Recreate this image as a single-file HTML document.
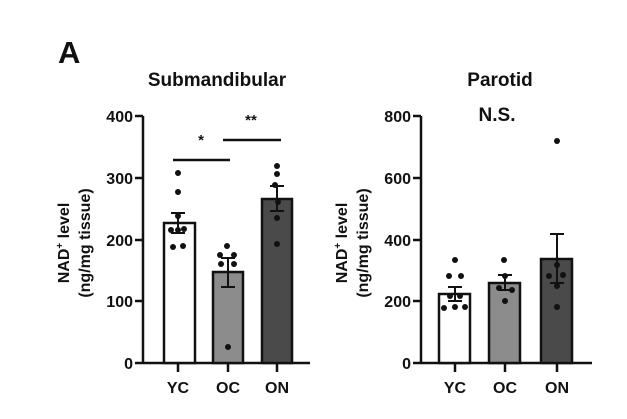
<!DOCTYPE html>
<html><head><style>body{margin:0;background:#fff}svg{display:block}text{font-family:"Liberation Sans",Arial,sans-serif;font-weight:bold;fill:#111}</style></head><body>
<svg width="627" height="419" viewBox="0 0 627 419">
<text x="58" y="63" font-size="31">A</text>
<text x="217" y="86" font-size="19" text-anchor="middle">Submandibular</text>
<text x="500" y="86" font-size="19" text-anchor="middle">Parotid</text>
<text x="497" y="121" font-size="19" text-anchor="middle">N.S.</text>
<g stroke="#111" stroke-width="2.5" fill="none">
<path d="M143 116V363H310M135 116H143M135 178H143M135 240H143M135 301H143M135 363H143M178 363V372M228 363V372M277 363V372"/>
<path d="M421 116V363H592M413 116H421M413 178H421M413 240H421M413 301H421M413 363H421M455 363V372M505 363V372M557 363V372"/>
</g>
<g font-size="16" text-anchor="end">
<text x="133" y="122">400</text><text x="133" y="184">300</text><text x="133" y="246">200</text><text x="133" y="307">100</text><text x="133" y="369">0</text>
<text x="411" y="122">800</text><text x="411" y="184">600</text><text x="411" y="246">400</text><text x="411" y="307">200</text><text x="411" y="369">0</text>
</g>
<g font-size="16" text-anchor="middle">
<text x="178" y="393">YC</text><text x="228" y="393">OC</text><text x="277" y="393">ON</text>
<text x="455" y="393">YC</text><text x="505" y="393">OC</text><text x="557" y="393">ON</text>
</g>
<g font-size="16" text-anchor="middle">
<text transform="translate(69,243) rotate(-90)">NAD<tspan font-size="10" dy="-6">+</tspan><tspan dy="6"> level</tspan></text>
<text transform="translate(90,243) rotate(-90)">(ng/mg tissue)</text>
<text transform="translate(347,243) rotate(-90)">NAD<tspan font-size="10" dy="-6">+</tspan><tspan dy="6"> level</tspan></text>
<text transform="translate(368,243) rotate(-90)">(ng/mg tissue)</text>
</g>
<g stroke="#111" stroke-width="2.5">
<rect x="164" y="223" width="31" height="140" fill="#fff"/>
<rect x="213" y="272" width="30" height="91" fill="#8c8c8c"/>
<rect x="262" y="199" width="30" height="164" fill="#4a4a4a"/>
<rect x="439" y="294" width="31" height="69" fill="#fff"/>
<rect x="489" y="283" width="31" height="80" fill="#8c8c8c"/>
<rect x="541" y="259" width="31" height="104" fill="#4a4a4a"/>
</g>
<g stroke="#111" stroke-width="2" fill="none">
<path d="M178 213V233M171 213H185M171 233H185"/>
<path d="M228 258V287M221 258H235M221 287H235"/>
<path d="M277 186V211M270 186H284M270 211H284"/>
<path d="M455 287V301M448 287H462M448 301H462"/>
<path d="M505 275V290M498 275H512M498 290H512"/>
<path d="M557 234V283M550 234H564M550 283H564"/>
</g>
<path d="M173 160H230M223 140H281" stroke="#111" stroke-width="2.5"/>
<text x="201" y="145" font-size="15" text-anchor="middle">*</text>
<text x="251" y="125" font-size="15" text-anchor="middle">**</text>
<g fill="#111">
<circle cx="178" cy="173" r="3"/><circle cx="178" cy="192" r="3"/><circle cx="178" cy="216" r="3"/><circle cx="171" cy="230" r="3"/><circle cx="178" cy="230" r="3"/><circle cx="173" cy="247" r="3"/><circle cx="183" cy="246" r="3"/><circle cx="184" cy="229" r="3"/>
<circle cx="227" cy="246" r="3"/><circle cx="220" cy="255" r="3"/><circle cx="234" cy="255" r="3"/><circle cx="221" cy="264" r="3"/><circle cx="234" cy="264" r="3"/><circle cx="228" cy="347" r="3"/>
<circle cx="277" cy="166" r="3"/><circle cx="277" cy="174" r="3"/><circle cx="275" cy="185" r="3"/><circle cx="278" cy="202" r="3"/><circle cx="277" cy="218" r="3"/><circle cx="277" cy="244" r="3"/>
<circle cx="455" cy="260" r="3"/><circle cx="449" cy="276" r="3"/><circle cx="461" cy="276" r="3"/><circle cx="450" cy="296" r="3"/><circle cx="460" cy="296" r="3"/><circle cx="444" cy="308" r="3"/><circle cx="455" cy="307" r="3"/><circle cx="465" cy="307" r="3"/>
<circle cx="504" cy="260" r="3"/><circle cx="505" cy="276" r="3"/><circle cx="499" cy="288" r="3"/><circle cx="512" cy="290" r="3"/><circle cx="505" cy="301" r="3"/>
<circle cx="557" cy="141" r="3"/><circle cx="557" cy="265" r="3"/><circle cx="549" cy="276" r="3"/><circle cx="563" cy="275" r="3"/><circle cx="557" cy="286" r="3"/><circle cx="557" cy="307" r="3"/>
</g>
</svg>
</body></html>
